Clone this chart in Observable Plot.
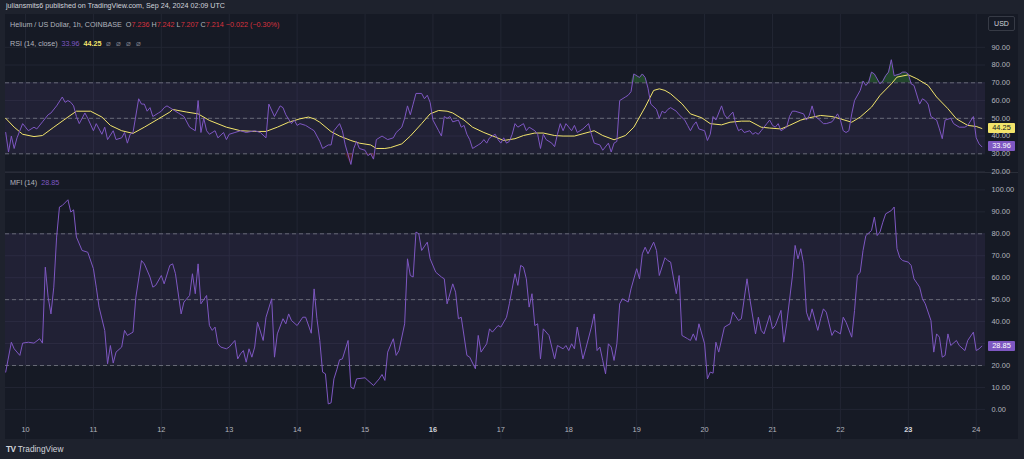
<!DOCTYPE html>
<html><head><meta charset="utf-8">
<script src="https://cdn.jsdelivr.net/npm/d3@7"></script>
<script src="https://cdn.jsdelivr.net/npm/@observablehq/plot@0.6"></script>
<style>
html,body{margin:0;padding:0;background:#1e222d;width:1024px;height:459px;overflow:hidden;font-family:"Liberation Sans",Arial,sans-serif;}
.abs{position:absolute;white-space:nowrap;}
#chart{position:absolute;left:5px;top:14px;width:1013px;height:425px;background:#161a25;overflow:hidden;}
.lbl{font-size:7.2px;color:#b2b5be;}
.box{position:absolute;left:983px;width:27px;height:10px;line-height:10px;font-size:7.4px;text-align:center;border-radius:1px;z-index:5;}
</style></head><body>
<div class="abs" style="left:6px;top:2px;font-size:7.15px;color:#d1d4dc;">juliansmits6 published on TradingView.com, Sep 24, 2024 02:09 UTC</div>
<div id="chart">
  <div id="mfi" style="position:absolute;left:0;top:159px;"></div>
  <div style="position:absolute;left:0;top:158px;width:1013px;height:1px;background:#2a2e39;"></div>
  <div id="rsi" style="position:absolute;left:0;top:0;z-index:2;"></div>
  <div id="xax" style="position:absolute;left:0;top:406px;"></div>
  <div class="abs lbl" style="left:5px;top:6px;z-index:3;">Helium / US Dollar, 1h, COINBASE&nbsp; O<span style="color:#d8323e">7.236</span> H<span style="color:#d8323e">7.242</span> L<span style="color:#d8323e">7.207</span> C<span style="color:#d8323e">7.214</span> <span style="color:#d8323e">−0.022 (−0.30%)</span></div>
  <div class="abs" style="left:983px;top:2px;width:27px;height:15px;border:1px solid #363a45;border-radius:2px;box-sizing:border-box;font-size:7px;color:#d1d4dc;text-align:center;line-height:13px;z-index:3;background:#161a25;">USD</div>
  <div class="abs lbl" style="left:5px;top:25px;z-index:3;">RSI (14, close)&nbsp; <span style="color:#7e57c2">33.96</span>&nbsp; <span style="color:#f2e46b;font-weight:bold">44.25</span>&nbsp; <span style="color:#787b86;font-size:8px;letter-spacing:1.5px">⌀ ⌀ ⌀ ⌀</span></div>
  <div class="abs lbl" style="left:5px;top:164px;z-index:3;">MFI (14)&nbsp; <span style="color:#7e57c2">28.85</span></div>
</div>
<div class="abs" style="left:6px;top:444px;font-size:8.3px;color:#d1d4dc;"><b style="letter-spacing:-0.5px">TV</b> TradingView</div>
<script>
// hour offsets from 2024-09-10 00:00 UTC, value
const baseTime = Date.UTC(2024, 8, 10);
const rsiPoints = [[-7,42],[-6,31],[-5,40],[-4,33],[-3,39],[-1,47],[1,43],[3,45],[4,44],[6,48],[8,52],[9,53],[11,57],[13,62],[14,59],[15,60],[16,59],[17,57],[18,51],[19,47],[21,53],[22,50],[24,43],[25,47],[27,41],[28,45],[29,38],[31,43],[32,38],[34,39],[35,42],[36,36],[37,41],[38,42],[40,61],[41,58],[42,58],[43,54],[44,56],[45,51],[47,53],[48,54],[49,56],[50,57],[52,55],[54,53],[56,51],[58,45],[60,43],[61,60],[62,42],[63,50],[64,43],[65,41],[67,43],[68,39],[70,42],[71,38],[72,41],[74,42],[76,43],[78,42],[81,43],[83,42],[85,39],[86,58],[88,51],[90,57],[91,56],[92,52],[94,47],[95,49],[96,46],[97,47],[99,46],[101,44],[102,43],[104,37],[105,33],[107,35],[108,35],[109,43],[111,47],[112,43],[113,35],[115,24],[116,33],[117,37],[118,33],[120,32],[121,29],[122,30],[123,27],[124,38],[126,40],[127,39],[128,38],[130,39],[131,42],[133,45],[134,50],[135,57],[136,52],[137,58],[138,64],[140,64],[141,61],[142,63],[143,59],[144,49],[146,43],[147,40],[148,51],[149,50],[150,51],[151,48],[153,49],[154,45],[155,46],[156,41],[157,38],[158,33],[160,35],[161,36],[162,38],[163,36],[164,39],[166,41],[167,38],[168,36],[169,39],[170,36],[171,37],[172,41],[173,47],[174,45],[176,47],[177,43],[178,45],[180,43],[181,41],[182,33],[183,41],[184,38],[186,36],[187,34],[188,41],[189,47],[190,43],[191,47],[193,43],[194,46],[195,42],[197,44],[199,47],[200,41],[201,36],[203,35],[204,32],[206,36],[207,31],[208,36],[209,37],[210,60],[212,62],[213,63],[214,65],[215,75],[217,73],[218,75],[219,73],[220,67],[221,58],[223,55],[224,50],[225,54],[226,53],[227,55],[228,56],[230,54],[231,52],[233,49],[234,46],[235,43],[236,46],[237,48],[238,44],[240,43],[241,37.5],[242,41],[243,51],[244,49],[246,57],[247,52],[248,50],[250,53.5],[251,47],[252,43],[253,44],[254,42],[256,43],[257,41],[258,42],[259,41],[260,43],[262,47],[263,49],[264,46],[265,45],[266,47],[267,43],[269,45],[270,51],[271,54],[272,54],[273,53.5],[275,52.5],[276,49],[277,51.6],[278,57],[279,51],[280,50],[282,47],[283,47],[285,48],[286,50],[287,52.5],[288,49],[289,43],[290,42],[291,43],[292,52.5],[293,60],[295,65.7],[296,71],[297,68.5],[298,70.4],[299,76],[300,75],[302,69.4],[303,71],[304,74],[305,76],[306,83],[307,74],[309,75],[310,76],[311,76],[312,75],[313,69.4],[314,68.5],[316,58],[317,61],[318,60],[319,58],[320,51],[322,49],[323,44],[324,38.5],[325,49],[327,50],[328,47],[330,45],[332,45],[333,46],[335,51],[336,39],[337,35.6],[338,33.96]];
const rsiMaPoints = [[-7,50],[-4,45],[-1,41],[3,39.7],[6,40.3],[10,45],[15,50.7],[18,54],[23,54],[27,50.7],[30,46],[34,43],[38,41.5],[42,45],[47,49.7],[51,53.5],[52,55],[57,53.5],[61,52.5],[65,48.8],[71,45],[76,43],[81,42.6],[85,42.6],[89,45],[93,47.8],[97,49.7],[100,50.7],[102,49.7],[104,47.8],[108,42.5],[111,40],[115,37.5],[118,36],[122,35],[124,33],[127,33],[129,33.5],[133,35.6],[136,40],[140,47],[143,52.5],[146,54.4],[149,54],[151,53],[155,49],[158,45],[162,42],[166,39.5],[169,37.5],[173,38.5],[176,40.3],[180,41.7],[183,41.7],[187,40.3],[190,40],[194,40],[197,41.3],[201,43],[204,40.3],[208,37.9],[212,40.3],[215,45],[219,56.3],[222,65.7],[224,66.6],[226,65.7],[228,63.8],[232,58.2],[235,52.5],[239,50.3],[242,47],[246,46.3],[249,47.8],[253,48.4],[256,48.4],[260,45],[263,44.5],[267,44],[270,46],[274,49],[277,50.3],[281,51.6],[285,51],[288,49.7],[292,47.8],[295,50.7],[299,56.3],[302,62.9],[306,69.4],[308,73.2],[312,74.5],[315,72.3],[319,68.5],[322,62],[326,55.4],[329,49.7],[333,46],[336,45.4],[338,44.25]];
const mfiPoints = [[-7,17],[-5,30.6],[-4,27.6],[-2,24.6],[-1,30.2],[1,30.6],[3,30.2],[5,32.2],[6,30.2],[7,64.8],[8,51.1],[9,43.5],[10,55.7],[11,78.5],[12,92.2],[13,92.9],[15,95.5],[16,89.9],[17,90.9],[18,78.5],[20,72.4],[22,71.6],[24,64.1],[25,55.7],[26,46.6],[28,36],[29,20.8],[30,29.1],[31,21.1],[32,26.1],[34,28.4],[35,36],[36,33.7],[38,35.2],[39,51.1],[41,67.8],[42,66.3],[44,60.3],[45,55.7],[46,56.5],[48,61],[49,57.2],[51,65.6],[52,66.3],[53,61.8],[55,43.5],[56,48.9],[58,51.9],[59,61.8],[60,52.7],[61,66.3],[62,48.1],[64,51.9],[65,38.2],[66,36],[67,37.5],[68,29.9],[69,28.4],[71,27.6],[72,28.4],[74,31.4],[75,23],[76,25.3],[77,26.8],[78,21.5],[79,27.6],[80,23.8],[81,28.4],[82,39.7],[84,31.4],[85,42],[87,50.4],[88,23.8],[89,34.4],[91,41.3],[92,39],[93,43.5],[94,40.5],[96,38.2],[98,42],[99,42],[101,34.7],[102,54.9],[103,41.3],[104,31.4],[105,17],[106,16.2],[107,2.5],[108,3],[109,13.9],[110,18],[111,22.6],[112,23],[114,31.4],[115,10.1],[116,9.4],[117,13.9],[120,14.4],[121,13.2],[123,10.9],[125,13.9],[126,15.9],[127,13.2],[128,26.1],[130,32.2],[131,24.6],[132,26.8],[134,39],[135,68.6],[136,61],[137,60.3],[138,80.8],[139,80],[140,72.4],[142,76.2],[143,68.6],[145,62.5],[147,60.3],[148,59.5],[149,48.1],[151,57.2],[152,53.4],[153,41.3],[154,42],[156,24.6],[157,23.8],[159,18.5],[160,33.7],[161,26.1],[163,29.9],[164,36.7],[165,35.2],[167,38.2],[168,37.5],[170,42],[171,48.1],[173,61.8],[174,56.5],[175,65.6],[176,64.8],[177,59.5],[178,46.6],[179,52.7],[180,38.2],[181,39],[182,23],[183,36.7],[185,33.7],[186,28.4],[187,23],[188,29.1],[190,27.6],[191,29.1],[192,26.8],[193,29.9],[194,27.6],[195,37.5],[197,23],[198,27.6],[200,37.5],[201,43.5],[202,26.8],[203,28.4],[204,22.3],[205,16.2],[206,29.9],[207,28.4],[208,22.3],[209,29.9],[210,48.1],[211,50.4],[213,48.9],[214,54.9],[216,64.1],[217,59.5],[218,70.9],[219,73.9],[220,70.9],[222,76.2],[223,72.4],[224,61],[226,69.1],[227,67.8],[228,67.1],[230,52.7],[231,61],[232,33.7],[234,32.2],[235,31.4],[236,34.4],[237,31.4],[238,39],[240,29.9],[241,13.9],[242,17],[243,16.5],[244,30.6],[245,26.1],[247,37.5],[249,39],[250,44.3],[252,40.5],[253,41.3],[255,59.5],[256,50.4],[258,34.4],[259,42],[260,36],[261,34.4],[263,42.8],[264,36.7],[265,38.2],[267,45.1],[268,30.6],[269,39],[271,60.3],[272,74.7],[273,68.6],[274,73.2],[275,66.3],[276,44.3],[277,40.5],[278,45.8],[280,36],[281,41.3],[282,45.8],[283,44.3],[285,33.7],[286,36],[288,34.4],[289,42],[290,39.7],[292,32.9],[293,45.1],[294,61],[295,62.5],[296,72.4],[297,79.2],[299,81.5],[300,87.6],[301,79.2],[302,80.8],[303,85.3],[304,89.1],[306,90.6],[307,92.2],[308,73.2],[309,69.1],[310,67.8],[312,67.1],[313,65.6],[314,59.5],[316,55.7],[317,50.4],[318,48.1],[320,40.5],[321,26.1],[322,34.4],[323,32.9],[324,23.8],[325,24.6],[326,34.4],[327,29.1],[329,31.4],[330,29.1],[332,26.8],[333,31.4],[335,35.2],[336,26.8],[337,27.6],[338,28.85]];
const dayLabels = ["2024-09-10","2024-09-11","2024-09-12","2024-09-13","2024-09-14","2024-09-15","2024-09-16","2024-09-17","2024-09-18","2024-09-19","2024-09-20","2024-09-21","2024-09-22","2024-09-23","2024-09-24"];
const weekStarts = ["2024-09-16","2024-09-23"];
const rsiTicks = [20,30,40,50,60,70,80,90];
const mfiTicks = [0,10,20,30,40,50,60,70,80,90,100];
const rsiLevels = [70,50,30];
const mfiLevels = [80,50,20];
const rsiBand = [30,70];
const mfiBand = [20,80];
const lastRsi = 33.96, lastRsiMa = 44.25, lastMfi = 28.85;

const toRows = pts => pts.map(([h, v]) => ({t: new Date(baseTime + h * 3600e3), v}));
const rsi = toRows(rsiPoints), rsiMa = toRows(rsiMaPoints), mfi = toRows(mfiPoints);
const days = dayLabels.map(s => new Date(s + "T00:00:00Z"));
const mondays = weekStarts.map(s => new Date(s + "T00:00:00Z"));
const xDomain = [new Date(baseTime - 7.068 * 3600e3), new Date(baseTime + 339.28 * 3600e3)];

const FONT = '"Liberation Sans", Arial, sans-serif';
const gridColor = "#222633";
const baseStyle = {background: "transparent", color: "#b2b5be", fontSize: "7.4px", fontFamily: FONT};
const common = {width: 1013, marginLeft: 0, marginRight: 33, marginTop: 0, marginBottom: 0};

const rsiPlot = Plot.plot({...common, height: 158,
  style: {...baseStyle, overflow: "visible"},
  x: {type: "utc", domain: xDomain, axis: null},
  y: {domain: [0, 100], range: [192.55, 15.05], axis: null, label: null},
  marks: [
    Plot.gridX(days, {stroke: gridColor, strokeOpacity: 1}),
    Plot.gridY(rsiTicks, {stroke: gridColor, strokeOpacity: 1}),
    Plot.rect([rsiBand], {y1: d => d[0], y2: d => d[1], fill: "#7e57c2", fillOpacity: 0.11}),
    Plot.ruleY(rsiLevels, {stroke: "#787b86", strokeOpacity: 0.8, strokeDasharray: "4,3"}),
    Plot.areaY(rsi, {x: "t", y1: 70, y2: d => Math.max(d.v, 70), fill: "#2e7d32", fillOpacity: 0.45}),
    Plot.areaY(rsi, {x: "t", y1: d => Math.min(d.v, 30), y2: 30, fill: "#c62828", fillOpacity: 0.25}),
    Plot.line(rsiMa, {x: "t", y: "v", stroke: "#f2e46b", strokeWidth: 1}),
    Plot.line(rsi, {x: "t", y: "v", stroke: "#7e57c2", strokeWidth: 1}),
    Plot.axisY(rsiTicks, {anchor: "right", label: null, tickSize: 0, tickPadding: 6, tickFormat: d => d.toFixed(2), fill: "#b2b5be"})
  ]
});
document.getElementById("rsi").append(rsiPlot);

const mfiPlot = Plot.plot({...common, height: 247,
  style: {...baseStyle, overflow: "hidden"},
  x: {type: "utc", domain: xDomain, axis: null},
  y: {domain: [0, 100], range: [235.9, 16.4], axis: null, label: null},
  marks: [
    Plot.gridX(days, {stroke: gridColor, strokeOpacity: 1}),
    Plot.gridY(mfiTicks, {stroke: gridColor, strokeOpacity: 1}),
    Plot.rect([mfiBand], {y1: d => d[0], y2: d => d[1], fill: "#7e57c2", fillOpacity: 0.11}),
    Plot.ruleY(mfiLevels, {stroke: "#787b86", strokeOpacity: 0.8, strokeDasharray: "4,3"}),
    Plot.line(mfi, {x: "t", y: "v", stroke: "#7e57c2", strokeWidth: 1}),
    Plot.axisY(mfiTicks, {anchor: "right", label: null, tickSize: 0, tickPadding: 6, tickFormat: d => d.toFixed(2), fill: "#b2b5be"})
  ]
});
document.getElementById("mfi").append(mfiPlot);

const xPlot = Plot.plot({...common, height: 19,
  style: {...baseStyle, overflow: "hidden"},
  x: {type: "utc", domain: xDomain, axis: null},
  marks: [
    Plot.gridX(days, {stroke: gridColor, strokeOpacity: 1}),
    Plot.text(days.filter(d => !mondays.some(m => +m === +d)), {x: d => d, frameAnchor: "middle", text: d => String(d.getUTCDate()), fill: "#b2b5be"}),
    Plot.text(mondays, {x: d => d, frameAnchor: "middle", text: d => String(d.getUTCDate()), fill: "#d1d4dc", fontWeight: "bold"})
  ]
});
document.getElementById("xax").append(xPlot);

// last-value boxes placed via the plots' y scales
const chart = document.getElementById("chart");
function box(plot, top, v, bg, fg) {
  const y = plot.scale("y").apply(v) + top;
  const d = document.createElement("div");
  d.className = "box";
  d.style.top = (y - 5) + "px";
  d.style.background = bg; d.style.color = fg;
  d.textContent = v.toFixed(2);
  chart.append(d);
}
box(rsiPlot, 0, lastRsiMa, "#f2e46b", "#131722");
box(rsiPlot, 0, lastRsi, "#7e57c2", "#ffffff");
box(mfiPlot, 159, lastMfi, "#7e57c2", "#ffffff");
</script>
</body></html>
